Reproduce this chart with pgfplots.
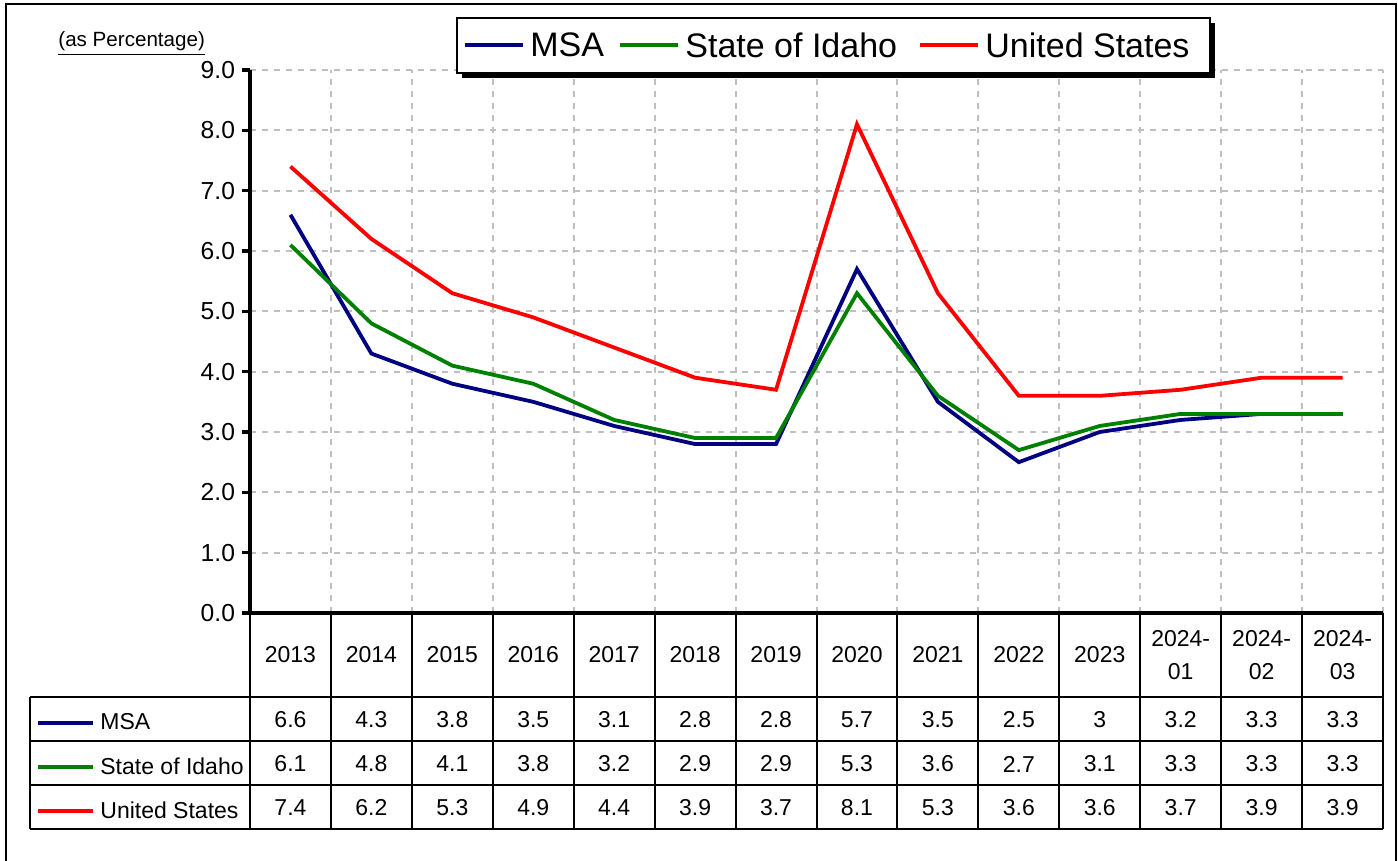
\documentclass[border=0pt]{standalone}
\usepackage{pgfplots}
\pgfplotsset{compat=1.18}
\usepackage{fontspec}
\setmainfont{Liberation Sans}
\definecolor{msa}{HTML}{000080}
\definecolor{idaho}{HTML}{008000}
\definecolor{us}{HTML}{FF0000}
\definecolor{gridgray}{HTML}{BFBFBF}
\begin{document}
\begin{tikzpicture}
\path[use as bounding box] (0pt,0pt) rectangle (699pt,-430.5pt);
\begin{axis}[
  at={(125pt,-306.5pt)}, anchor=south west,
  scale only axis, width=566.5pt, height=271.5pt,
  xmin=-0.5, xmax=13.5, ymin=0, ymax=9,
  axis x line=bottom, axis y line=left,
  axis line style={-, line width=1.75pt, black},
  xtick={0.5,1.5,2.5,3.5,4.5,5.5,6.5,7.5,8.5,9.5,10.5,11.5,12.5,13.5},
  xticklabels={},
  xtick style={draw=none},
  ytick={0,1,...,9},
  grid=major,
  major grid style={gridgray, line width=1pt, dash pattern=on 3pt off 3pt},
  tick align=outside, major tick length=4pt,
  ytick style={line width=1.75pt, black},
  yticklabel style={font=\fontsize{12.3}{14}\selectfont, /pgf/number format/.cd, fixed, fixed zerofill, precision=1, assume math mode=true},
  clip=false,
]
\addplot[msa, line width=1.9pt] coordinates {(0,6.6) (1,4.3) (2,3.8) (3,3.5) (4,3.1) (5,2.8) (6,2.8) (7,5.7) (8,3.5) (9,2.5) (10,3) (11,3.2) (12,3.3) (13,3.3)};
\addplot[idaho, line width=1.9pt] coordinates {(0,6.1) (1,4.8) (2,4.1) (3,3.8) (4,3.2) (5,2.9) (6,2.9) (7,5.3) (8,3.6) (9,2.7) (10,3.1) (11,3.3) (12,3.3) (13,3.3)};
\addplot[us, line width=1.9pt] coordinates {(0,7.4) (1,6.2) (2,5.3) (3,4.9) (4,4.4) (5,3.9) (6,3.7) (7,8.1) (8,5.3) (9,3.6) (10,3.6) (11,3.7) (12,3.9) (13,3.9)};
\end{axis}
\begin{scope}[x=0.5pt, y=-0.5pt]
\draw[line width=1pt] (6,870) -- (6,4) -- (1396,4) -- (1396,870);
\node[anchor=base west, inner sep=0pt, font=\fontsize{10.3}{12}\selectfont] at (58,47) {\underline{(as Percentage)}};
% legend
\fill[black] (462,23) rectangle (1215,78);
\draw[line width=1pt, fill=white] (457,18) rectangle (1210,73);
\begin{scope}[font=\fontsize{17}{20}\selectfont]
\draw[msa, line width=2pt] (465,45) -- (523,45);
\node[anchor=west, inner sep=0pt] at (530,45) {MSA};
\draw[idaho, line width=2pt] (620,45) -- (678,45);
\node[anchor=west, inner sep=0pt] at (685,45) {State of Idaho};
\draw[us, line width=2pt] (920,45) -- (978,45);
\node[anchor=west, inner sep=0pt] at (985,45) {United States};
\end{scope}
% table grid
\draw[line width=1pt] (30,697) -- (1383,697);
\draw[line width=1pt] (30,741) -- (1383,741);
\draw[line width=1pt] (30,785) -- (1383,785);
\draw[line width=1pt] (30,829) -- (1383,829);
\draw[line width=1pt] (30,697) -- (30,829);
\foreach \k in {0,...,14} \draw[line width=1pt] ({250+\k*80.93},613) -- ({250+\k*80.93},829);
\begin{scope}[font=\fontsize{11.5}{16.5}\selectfont]
\foreach \lab [count=\i from 0] in {2013,2014,2015,2016,2017,2018,2019,2020,2021,2022,2023,{2024-\\01},{2024-\\02},{2024-\\03}}
  \node[align=center] at ({290.46+\i*80.93},655) {\lab};
\foreach \v [count=\i from 0] in {6.6,4.3,3.8,3.5,3.1,2.8,2.8,5.7,3.5,2.5,3,3.2,3.3,3.3}
  \node at ({290.46+\i*80.93},720) {\v};
\foreach \v [count=\i from 0] in {6.1,4.8,4.1,3.8,3.2,2.9,2.9,5.3,3.6,2.7,3.1,3.3,3.3,3.3}
  \node at ({290.46+\i*80.93},764) {\v};
\foreach \v [count=\i from 0] in {7.4,6.2,5.3,4.9,4.4,3.9,3.7,8.1,5.3,3.6,3.6,3.7,3.9,3.9}
  \node at ({290.46+\i*80.93},808) {\v};
\draw[msa, line width=2pt] (38,723) -- (93,723);
\node[anchor=west, inner sep=0pt] at (100,722) {MSA};
\draw[idaho, line width=2pt] (38,767) -- (93,767);
\node[anchor=west, inner sep=0pt] at (100,766) {State of Idaho};
\draw[us, line width=2pt] (38,811) -- (93,811);
\node[anchor=west, inner sep=0pt] at (100,810) {United States};
\end{scope}
\end{scope}
\end{tikzpicture}
\end{document}
